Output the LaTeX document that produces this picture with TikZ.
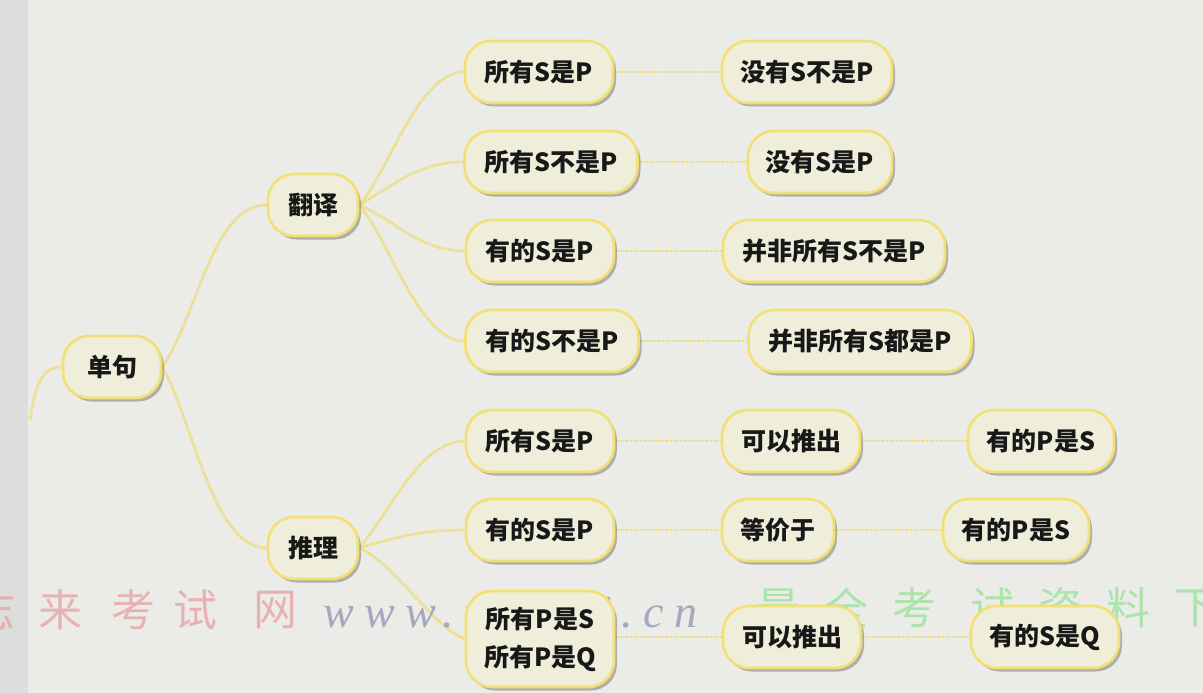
\documentclass[tikz,border=0pt]{standalone}
\usepackage{fontspec}
\setmainfont{Noto Sans CJK SC}
\newfontfamily\wmfont{Noto Sans CJK SC}
\newfontfamily\urlfont{Liberation Serif}[LetterSpace=22]
\usetikzlibrary{shadows}
\definecolor{bgc}{RGB}{235,236,232}
\definecolor{stripc}{RGB}{221,222,219}
\definecolor{nodefill}{RGB}{238,238,219}
\definecolor{nodeborder}{RGB}{243,224,115}
\definecolor{linkc}{RGB}{236,220,120}
\definecolor{txt}{RGB}{24,24,24}
\definecolor{wmred}{RGB}{230,165,165}
\definecolor{wmblue}{RGB}{160,160,188}
\definecolor{wmgreen}{RGB}{155,226,155}
\pgfdeclarelayer{back}
\pgfdeclarelayer{edges}
\pgfsetlayers{back,edges,main}
\begin{document}
\begin{tikzpicture}[x=1pt,y=-1pt,
  mm/.style={draw=nodeborder, line width=2.6pt, fill=nodefill, rounded corners=26pt,
    minimum height=62pt, inner xsep=18pt, inner ysep=4pt,
    font=\fontsize{25}{30}\selectfont\bfseries, text=txt,
    drop shadow={shadow xshift=3pt, shadow yshift=-3.5pt, opacity=0.38, fill=black!70}},
  link/.style={draw=linkc, line width=2.8pt, dash pattern=on 1.6pt off 0.9pt},
  wmr/.style={text=wmred, font=\wmfont\fontsize{44}{48}\selectfont, opacity=0.8},
  wmg/.style={text=wmgreen, font=\wmfont\fontsize{44}{48}\selectfont, opacity=0.8},
  wmu/.style={text=wmblue, font=\urlfont\itshape\fontsize{46}{50}\selectfont, opacity=0.9},
]
\begin{pgfonlayer}{back}
  \fill[bgc] (0,0) rectangle (1203,693);
  \fill[stripc] (0,0) rectangle (28,693);
\end{pgfonlayer}
\useasboundingbox (0,0) rectangle (1203,693);

% nodes
\node[mm, minimum width=98pt] (dj) at (112,367) {单句};
\node[mm, minimum width=90pt] (fy) at (313,205) {翻译};
\node[mm, minimum width=90pt] (tl) at (313,548) {推理};
\node[mm, minimum width=148pt] (a1) at (539,72) {所有S是P};
\node[mm, minimum width=173pt] (a2) at (551,162) {所有S不是P};
\node[mm, minimum width=148pt] (a3) at (540,251) {有的S是P};
\node[mm, minimum width=173pt] (a4) at (552,341) {有的S不是P};
\node[mm, minimum width=148pt] (b1) at (540,441) {所有S是P};
\node[mm, minimum width=148pt] (b2) at (540,530) {有的S是P};
\node[mm, minimum width=148pt, minimum height=96pt, align=center,
      font=\fontsize{25}{38}\selectfont\bfseries] (b3) at (540,639) {所有P是S\\所有P是Q};
\node[mm, minimum width=170pt] (c1) at (807,72) {没有S不是P};
\node[mm, minimum width=144pt] (c2) at (820,162) {没有S是P};
\node[mm, minimum width=222pt] (c3) at (834,251) {并非所有S不是P};
\node[mm, minimum width=223pt] (c4) at (860,341) {并非所有S都是P};
\node[mm, minimum width=138pt] (d1) at (791,441) {可以推出};
\node[mm, minimum width=112pt] (d2) at (778,530) {等价于};
\node[mm, minimum width=138pt] (d3) at (792,637) {可以推出};
\node[mm, minimum width=146pt] (e1) at (1041,441) {有的P是S};
\node[mm, minimum width=146pt] (e2) at (1016,530) {有的P是S};
\node[mm, minimum width=148pt] (e3) at (1045,637) {有的S是Q};
\coordinate (lp) at (30,420);

\begin{pgfonlayer}{edges}
  \draw[link] (lp) .. controls +(5,-35) and +(-20,0) .. (dj.west);
  \draw[link] (dj.east) .. controls +(35,-50) and +(-55,0) .. (fy.west);
  \draw[link] (dj.east) .. controls +(30,50) and +(-55,0) .. (tl.west);
  \draw[link] (fy.east) .. controls +(30,-35) and +(-45,0) .. (a1.west);
  \draw[link] (fy.east) .. controls +(35,-20) and +(-45,0) .. (a2.west);
  \draw[link] (fy.east) .. controls +(35,15) and +(-45,0) .. (a3.west);
  \draw[link] (fy.east) .. controls +(30,35) and +(-45,0) .. (a4.west);
  \draw[link] (tl.east) .. controls +(30,-35) and +(-45,0) .. (b1.west);
  \draw[link] (tl.east) .. controls +(35,-10) and +(-45,0) .. (b2.west);
  \draw[link] (tl.east) .. controls +(35,15) and +(-30,-10) .. (b3.west);
  \draw[link] (a1) -- (c1);
  \draw[link] (a2) -- (c2);
  \draw[link] (a3) -- (c3);
  \draw[link] (a4) -- (c4);
  \draw[link] (b1) -- (d1);
  \draw[link] (d1) -- (e1);
  \draw[link] (b2) -- (d2);
  \draw[link] (d2) -- (e2);
  \draw[link] (b3.east |- d3) -- (d3);
  \draw[link] (d3) -- (e3);
  % watermark
  \node[wmr] (w1) at (-6,610) {志};
  \node[wmr] (w2) at (60,610) {来};
  \node[wmr] (w3) at (133,610) {考};
  \node[wmr] (w4) at (195,610) {试};
  \node[wmr] (w5) at (275,610) {网};
  \node[wmu, anchor=base west] (wu) at (320,627) {www.tgjiai.cn};
  \node[wmg] (g1) at (778,608) {最};
  \node[wmg] (g2) at (846,608) {全};
  \node[wmg] (g3) at (914,608) {考};
  \node[wmg] (g4) at (992,608) {试};
  \node[wmg] (g5) at (1060,608) {资};
  \node[wmg] (g6) at (1128,608) {料};
  \node[wmg] (g7) at (1196,608) {下};
\end{pgfonlayer}
\end{tikzpicture}
\end{document}
